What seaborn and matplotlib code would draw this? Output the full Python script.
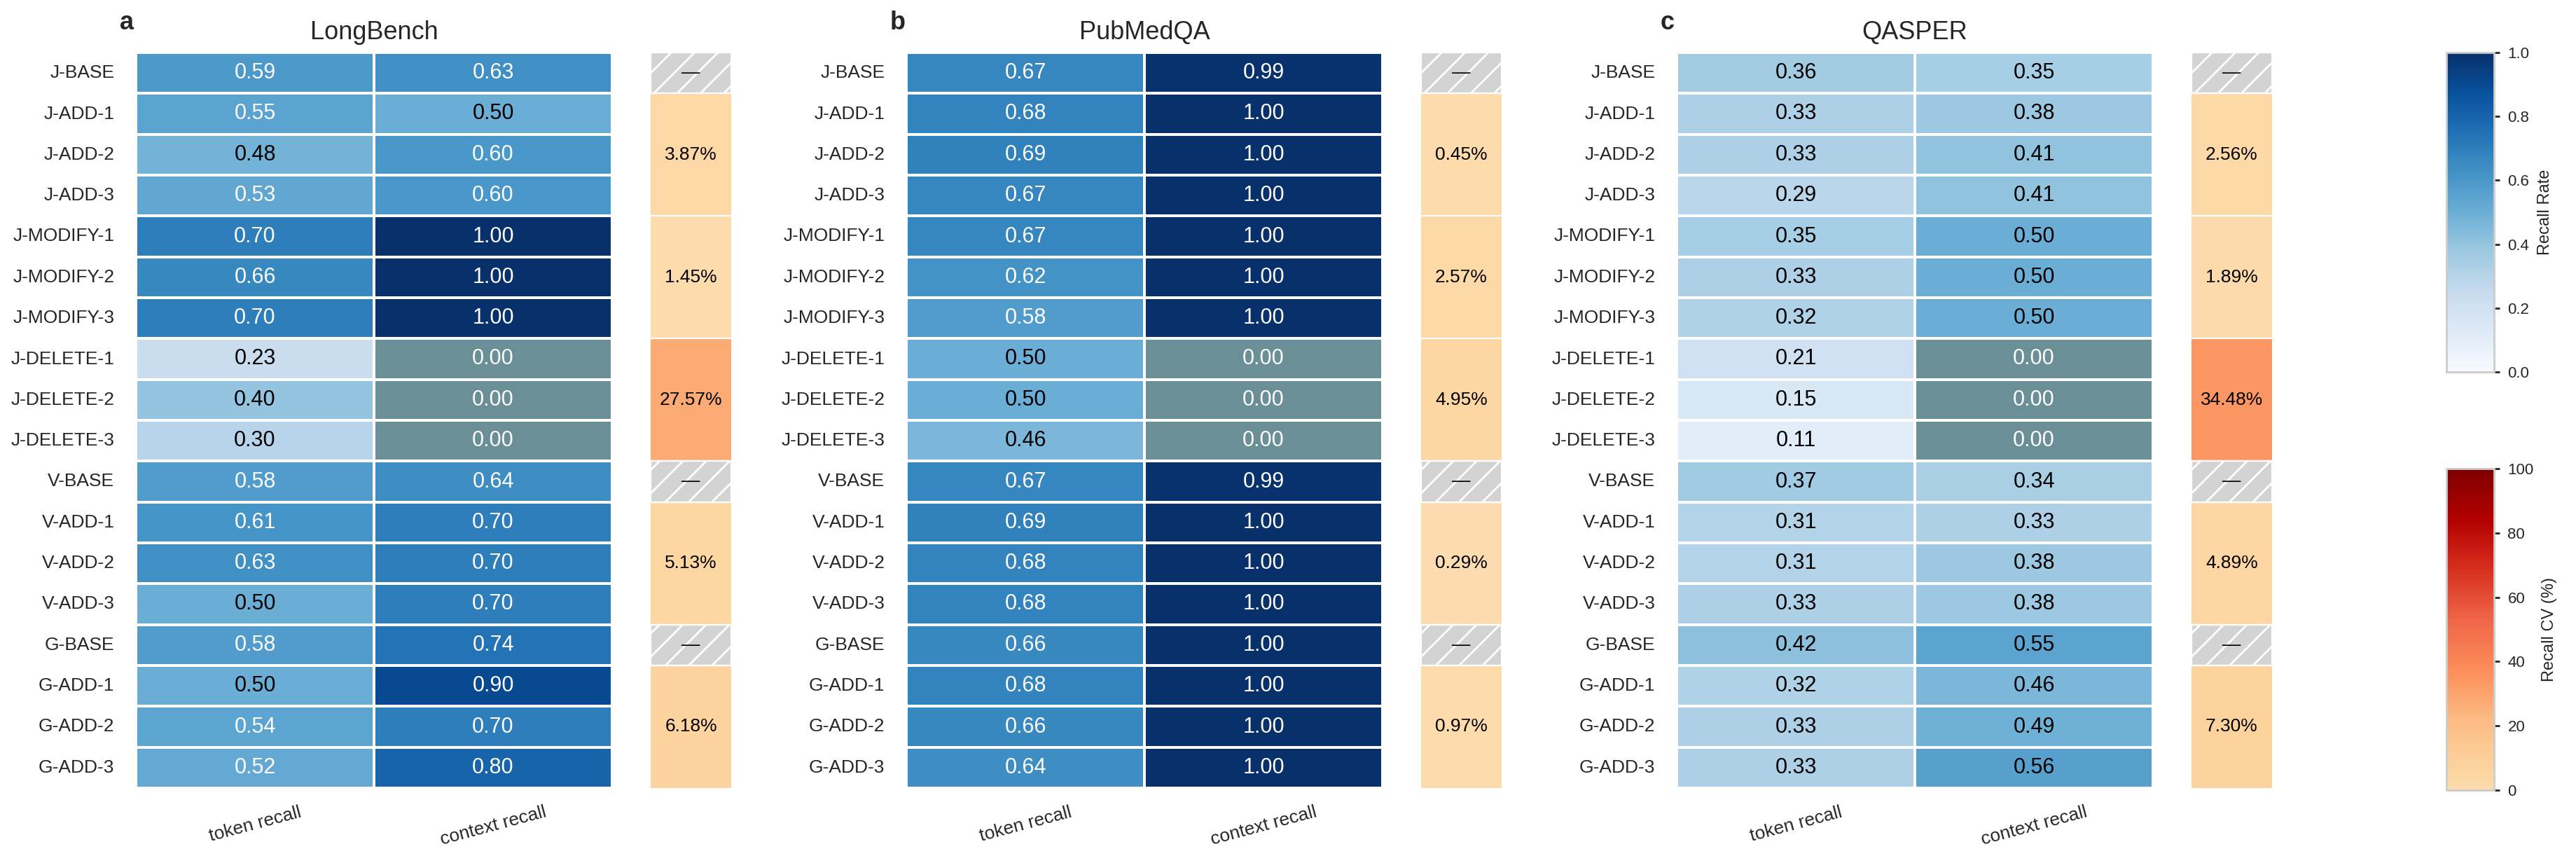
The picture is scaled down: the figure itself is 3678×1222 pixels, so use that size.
import matplotlib.pyplot as plt
import matplotlib.colors as mcolors
from matplotlib.patches import Rectangle
import numpy as np
import pandas as pd
import seaborn as sns

# rows of every heatmap
rows = ['J-BASE', 'J-ADD-1', 'J-ADD-2', 'J-ADD-3',
        'J-MODIFY-1', 'J-MODIFY-2', 'J-MODIFY-3',
        'J-DELETE-1', 'J-DELETE-2', 'J-DELETE-3',
        'V-BASE', 'V-ADD-1', 'V-ADD-2', 'V-ADD-3',
        'G-BASE', 'G-ADD-1', 'G-ADD-2', 'G-ADD-3']
metrics = ['token recall', 'context recall']
datasets = ['LongBench', 'PubMedQA', 'QASPER']
letters = ['a', 'b', 'c']

longbench_token = [0.59, 0.55, 0.48, 0.53, 0.70, 0.66, 0.70, 0.23, 0.40, 0.30,
                   0.58, 0.61, 0.63, 0.50, 0.58, 0.50, 0.54, 0.52]
longbench_context = [0.63, 0.50, 0.60, 0.60, 1.00, 1.00, 1.00, 0.00, 0.00, 0.00,
                     0.64, 0.70, 0.70, 0.70, 0.74, 0.90, 0.70, 0.80]
pubmedqa_token = [0.67, 0.68, 0.69, 0.67, 0.67, 0.62, 0.58, 0.50, 0.50, 0.46,
                  0.67, 0.69, 0.68, 0.68, 0.66, 0.68, 0.66, 0.64]
pubmedqa_context = [0.99, 1.00, 1.00, 1.00, 1.00, 1.00, 1.00, 0.00, 0.00, 0.00,
                    0.99, 1.00, 1.00, 1.00, 1.00, 1.00, 1.00, 1.00]
qasper_token = [0.36, 0.33, 0.33, 0.29, 0.35, 0.33, 0.32, 0.21, 0.15, 0.11,
                0.37, 0.31, 0.31, 0.33, 0.42, 0.32, 0.33, 0.33]
qasper_context = [0.35, 0.38, 0.41, 0.41, 0.50, 0.50, 0.50, 0.00, 0.00, 0.00,
                  0.34, 0.33, 0.38, 0.38, 0.55, 0.46, 0.49, 0.56]

# CV (%) per operation group, nan = baseline (no CV)
groups = ['J-BASE', 'J-ADD', 'J-MODIFY', 'J-DELETE', 'V-BASE', 'V-ADD', 'G-BASE', 'G-ADD']
group_sizes = [1, 3, 3, 3, 1, 3, 1, 3]
longbench_cv = [np.nan, 3.87, 1.45, 27.57, np.nan, 5.13, np.nan, 6.18]
pubmedqa_cv = [np.nan, 0.45, 2.57, 4.95, np.nan, 0.29, np.nan, 0.97]
qasper_cv = [np.nan, 2.56, 1.89, 34.48, np.nan, 4.89, np.nan, 7.30]

tokens = [longbench_token, pubmedqa_token, qasper_token]
contexts = [longbench_context, pubmedqa_context, qasper_context]
cvs = [longbench_cv, pubmedqa_cv, qasper_cv]
white_above = [0.5, 0.5, 0.6]

sns.set_theme(style='white')
plt.rcParams['font.family'] = ['Liberation Sans', 'DejaVu Sans']
plt.rcParams['hatch.linewidth'] = 1.0

W, H = 3678, 1222
fig = plt.figure(figsize=(W / 200, H / 200), dpi=200)


def box(x0, y0, x1, y1):
    return [x0 / W, 1 - y1 / H, (x1 - x0) / W, (y1 - y0) / H]


cmap_cv = mcolors.LinearSegmentedColormap.from_list(
    'orrd_cut', plt.get_cmap('OrRd')(np.linspace(0.2, 1.0, 256)))
zero_cmap = mcolors.ListedColormap(['#6a8f97'])

cb1_ax = fig.add_axes(box(3493, 75, 3561, 531))
cb2_ax = fig.add_axes(box(3493, 669, 3561, 1128))

for i, name in enumerate(datasets):
    off = i * 1100
    ax = fig.add_axes(box(194 + off, 75, 874 + off, 1125))
    ax_cv = fig.add_axes(box(929 + off, 75, 1044 + off, 1125))

    df = pd.DataFrame({metrics[0]: tokens[i], metrics[1]: contexts[i]}, index=rows)

    sns.heatmap(df, ax=ax, cmap='Blues', vmin=0, vmax=1, mask=(df == 0),
                annot=True, fmt='.2f', annot_kws={'size': 11},
                linewidths=0.8, linecolor='white',
                cbar=(i == 0), cbar_ax=cb1_ax if i == 0 else None)
    # zero recall cells get their own flat colour
    sns.heatmap(df, ax=ax, cmap=zero_cmap, mask=(df != 0),
                annot=True, fmt='.2f', annot_kws={'size': 11},
                linewidths=0.8, linecolor='white', cbar=False)
    for t in ax.texts:
        v = float(t.get_text())
        t.set_color('white' if (v == 0 or v > white_above[i]) else 'black')

    ax.set_xlabel('')
    ax.set_ylabel('')
    ax.tick_params(axis='y', length=0, pad=11, labelsize=9.5, colors='.15')
    ax.tick_params(axis='x', length=0, pad=8, labelsize=9.5, colors='.15')
    plt.setp(ax.get_yticklabels(), rotation=0, va='center')
    plt.setp(ax.get_xticklabels(), rotation=15, ha='center')
    ax.set_title(name, fontsize=13, pad=7, color='.15')
    ax.text(-0.034, 1.031, letters[i], transform=ax.transAxes, fontsize=13,
            fontweight='bold', ha='left', va='baseline', color='.15')

    # CV column, one block per operation group
    cv_rows = np.repeat(cvs[i], group_sizes)
    cv_df = pd.DataFrame({'cv': cv_rows}, index=rows)
    sns.heatmap(cv_df, ax=ax_cv, cmap=cmap_cv, vmin=0, vmax=100,
                xticklabels=False, yticklabels=False,
                cbar=(i == 0), cbar_ax=cb2_ax if i == 0 else None)
    ax_cv.set_xlabel('')
    ax_cv.set_ylabel('')
    starts = np.cumsum([0] + group_sizes[:-1])
    for s, n, v in zip(starts, group_sizes, cvs[i]):
        if np.isnan(v):
            ax_cv.add_patch(Rectangle((0, s), 1, n, facecolor='lightgray',
                                      edgecolor='white', hatch='//', lw=0.8))
            ax_cv.text(0.5, s + n / 2, '\u2014', ha='center', va='center',
                       fontsize=9.5, color='black')
        else:
            ax_cv.text(0.5, s + n / 2, f'{v:.2f}%', ha='center', va='center',
                       fontsize=9.5, color='black')
        if s > 0:
            ax_cv.axhline(s, color='white', lw=0.8)

# colorbars
cb1 = fig.axes[2].collections[0].colorbar
cb1.set_ticks([0, 0.2, 0.4, 0.6, 0.8, 1.0])
cb1.ax.set_yticklabels(['0.0', '0.2', '0.4', '0.6', '0.8', '1.0'])
cb1.set_label('Recall Rate', size=8.5, labelpad=4, color='.15')

cb2 = fig.axes[3].collections[0].colorbar
cb2.set_ticks([0, 20, 40, 60, 80, 100])
cb2.set_label('Recall CV (%)', size=8.5, labelpad=4, color='.15')

for cb in [cb1, cb2]:
    cb.outline.set_linewidth(1.0)
    cb.outline.set_edgecolor('.8')
    cb.ax.tick_params(length=3, width=1, labelsize=8, pad=4, color='.15',
                      labelcolor='.15', right=True)

fig.savefig('out.png', dpi=200)
